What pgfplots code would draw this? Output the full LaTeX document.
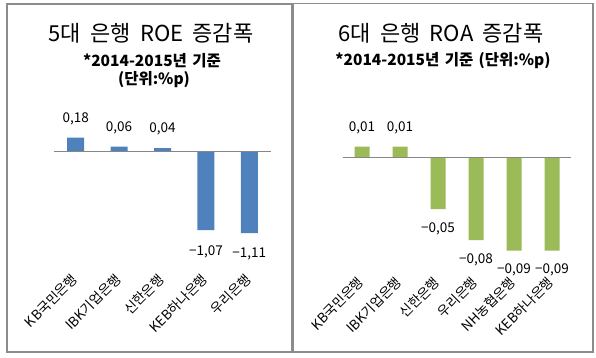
\documentclass[border=0pt]{standalone}
\usepackage{fontspec}
\setmainfont{Noto Sans CJK KR}
\usepackage{pgfplots}
\pgfplotsset{compat=1.18}
\definecolor{barblue}{HTML}{4F81BD}
\definecolor{bargreen}{HTML}{9BBB59}
\definecolor{frame}{HTML}{8C8C8C}
\definecolor{zeroline}{HTML}{868686}
\pgfplotsset{
 mybar/.style={
  scale only axis,
  axis line style={draw=none},
  ytick=\empty,
  major tick length=0pt,
  xticklabel style={rotate=45, anchor=east, inner sep=1pt, font=\fontsize{13.5}{15}\selectfont},
  clip=false,
 },
 vals/.style={
  ybar, bar shift=0pt, draw=none,
  nodes near coords,
  point meta=explicit symbolic,
  every node near coord/.append style={font=\fontsize{13.5}{15}\selectfont, inner xsep=0pt, text=black},
 },
 posv/.style={vals, every node near coord/.append style={anchor=south, inner ysep=12.5pt}},
 negv/.style={vals, every node near coord/.append style={anchor=north, inner ysep=#1}},
}
\newcommand{\titlefont}{\fontsize{22}{26}\selectfont\spaceskip=0.42em\relax}
\newcommand{\subfont}{\fontsize{15.5}{18}\selectfont\bfseries\spaceskip=0.35em\relax}
\begin{document}
\begin{tikzpicture}
\path[use as bounding box, fill=white] (0,0) rectangle (596pt,-357pt);
\draw[frame, line width=1.6pt] (7pt,-4pt) rectangle (292pt,-352pt);
\draw[frame, line width=1.6pt] (293.5pt,-3.5pt) rectangle (593pt,-352pt);
\node at (151pt,-33pt) {\titlefont 5대 은행 ROE 증감폭};
\node at (152pt,-61pt) {\subfont *2014-2015년 기준};
\node at (154pt,-80pt) {\subfont (단위:\%p)};
\node at (441pt,-33pt) {\titlefont 6대 은행 ROA 증감폭};
\node at (443pt,-61pt) {\subfont *2014-2015년 기준 (단위:\%p)};

\begin{axis}[mybar, at={(54pt,-276pt)}, anchor=south west,
  width=217pt, height=176.8pt, xmin=-0.5, xmax=4.5, ymin=-1.689, ymax=0.7,
  xtick={0,1,2,3,4},
  xticklabels={KB국민은행, IBK기업은행, 신한은행, KEB하나은행, 우리은행}]
\addplot[posv, fill=barblue, bar width=17pt] coordinates {
 (0,0.18) [0,18]
 (1,0.06) [0,06]
 (2,0.04) [0,04]
};
\addplot[negv=15pt, fill=barblue, bar width=17pt] coordinates {
 (3,-1.07) [−1,07]
 (4,-1.11) [−1,11]
};
\addplot[zeroline, line width=0.9pt, no marks] coordinates {(-0.5,0) (4.5,0)};
\end{axis}

\begin{axis}[mybar, at={(343pt,-279pt)}, anchor=south west,
  width=228pt, height=174pt, xmin=-0.5, xmax=5.5, ymin=-0.1173, ymax=0.05,
  xtick={0,1,2,3,4,5},
  xticklabels={KB국민은행, IBK기업은행, 신한은행, 우리은행, NH농협은행, KEB하나은행}]
\addplot[posv, fill=bargreen, bar width=15pt] coordinates {
 (0,0.01) [0,01]
 (1,0.01) [0,01]
};
\addplot[negv=13pt, fill=bargreen, bar width=15pt] coordinates {
 (2,-0.05) [−0,05]
 (3,-0.08) [−0,08]
 (4,-0.09) [−0,09]
 (5,-0.09) [−0,09]
};
\addplot[zeroline, line width=0.9pt, no marks] coordinates {(-0.5,0) (5.5,0)};
\end{axis}
\end{tikzpicture}
\end{document}
